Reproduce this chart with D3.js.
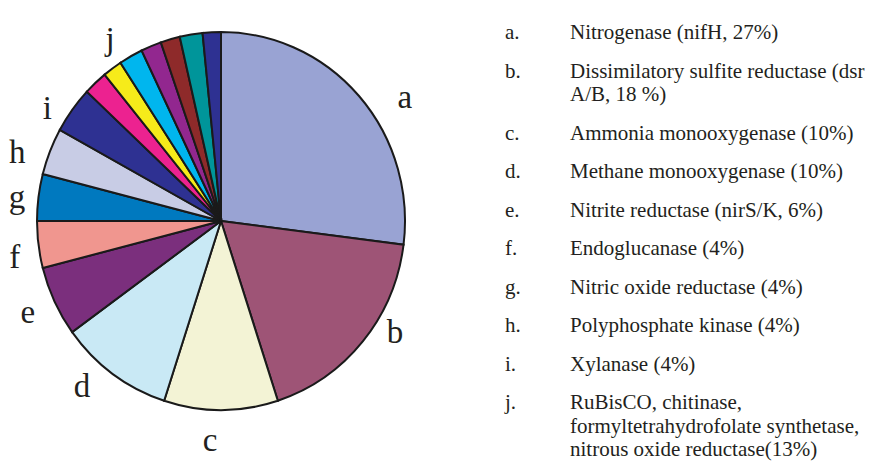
<!DOCTYPE html>
<html>
<head>
<meta charset="utf-8">
<script src="https://cdn.jsdelivr.net/npm/d3@7"></script>
<style>
  body { margin: 0; background: #fff; }
  svg { display: block; }
  text { font-family: "Liberation Serif", "Times New Roman", serif; fill: #231f20; }
</style>
</head>
<body>
<div id="chart"></div>
<script>
var width = 875;
var height = 462;

// slice letters, shares (%) and fills, clockwise from 12 o'clock
var sliceKeys = ["a", "b", "c", "d", "e", "f", "g", "h", "i",
  "j1", "j2", "j3", "j4", "j5", "j6", "j7"];
var sliceValues = [27, 18, 10, 10, 6, 4, 4, 4, 4,
  2.1, 1.7, 2.1, 1.8, 1.7, 2.0, 1.6];
var sliceColors = ["#99a3d3", "#9e5476", "#f3f3d5", "#c9e9f5", "#7b2f7d",
  "#f0968f", "#0079bf", "#c8cce5", "#2e3192",
  "#ec2290", "#f6eb1a", "#00b6ee", "#92278f", "#8e2a2a", "#00959a", "#2e3192"];

// letters round the pie: angle (deg from top) and distance
var labelText = ["a", "b", "c", "d", "e", "f", "g", "h", "i", "j"];
var labelAngle = [56.7, 123.2, 182.8, 219.6, 244, 259.3, 275.9, 287.9, 302.5, 328.3];
var labelRadius = [220, 208, 222, 218, 215, 210, 205, 214, 206, 211];

// legend entries, one array of lines for each
var legendKeys = ["a.", "b.", "c.", "d.", "e.", "f.", "g.", "h.", "i.", "j."];
var legendLines = [
  ["Nitrogenase (nifH, 27%)"],
  ["Dissimilatory sulfite reductase (dsr", "A/B, 18 %)"],
  ["Ammonia monooxygenase (10%)"],
  ["Methane monooxygenase (10%)"],
  ["Nitrite reductase (nirS/K, 6%)"],
  ["Endoglucanase (4%)"],
  ["Nitric oxide reductase (4%)"],
  ["Polyphosphate kinase (4%)"],
  ["Xylanase (4%)"],
  ["RuBisCO, chitinase,", "formyltetrahydrofolate synthetase,", "nitrous oxide reductase(13%)"]
];

var cx = 221, cy = 221, rx = 184, ry = 189;

var svg = d3.select("#chart")
  .append("svg")
  .attr("width", width)
  .attr("height", height);

var pie = d3.pie().sort(null).value(function(d) { return d; });
var arc = d3.arc().innerRadius(0).outerRadius(rx);

// pie is slightly taller than wide in the picture
var pieG = svg.append("g")
  .attr("transform", "translate(" + cx + "," + cy + ") scale(1," + (ry / rx) + ")");

pieG.selectAll("path")
  .data(pie(sliceValues))
  .enter()
  .append("path")
  .attr("d", arc)
  .attr("fill", function(d, i) { return sliceColors[i]; })
  .attr("stroke", "#1a1a1a")
  .attr("stroke-width", 2)
  .attr("stroke-linejoin", "miter")
  .attr("vector-effect", "non-scaling-stroke");

// letters
svg.append("g")
  .selectAll("text")
  .data(labelText)
  .enter()
  .append("text")
  .attr("x", function(d, i) {
    return cx + d3.pointRadial(labelAngle[i] * Math.PI / 180, labelRadius[i])[0];
  })
  .attr("y", function(d, i) {
    return cy + d3.pointRadial(labelAngle[i] * Math.PI / 180, labelRadius[i])[1];
  })
  .attr("dy", "0.25em")
  .attr("text-anchor", "middle")
  .style("font-size", "33px")
  .text(function(d) { return d; });

// legend
var legend = svg.append("g");
var rowGap = 38.5, lineGap = 23.5;
var y = 39;
legendKeys.forEach(function(k, i) {
  legend.append("text")
    .attr("x", 505)
    .attr("y", y)
    .style("font-size", "21px")
    .text(k);
  legendLines[i].forEach(function(line, j) {
    legend.append("text")
      .attr("x", 570)
      .attr("y", y + j * lineGap)
      .style("font-size", "21px")
      .text(line);
  });
  y += (legendLines[i].length - 1) * lineGap + rowGap;
});
</script>
</body>
</html>
